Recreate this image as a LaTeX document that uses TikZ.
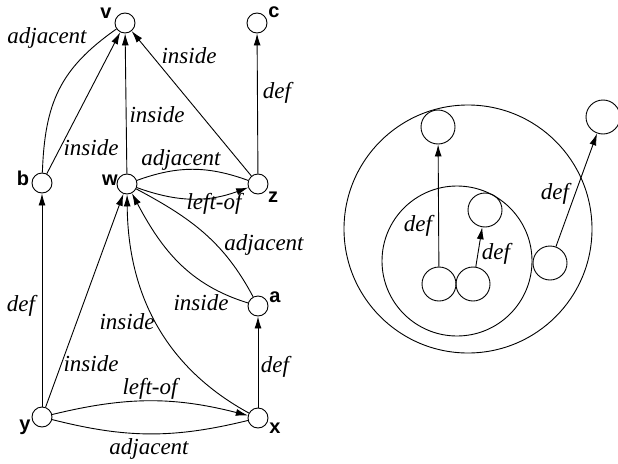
\documentclass[tikz,border=0pt]{standalone}
\usepackage{fontspec}
\setmainfont{Liberation Serif}
\newfontfamily\hvfont{Liberation Sans}
\usetikzlibrary{arrows.meta}
\begin{document}
\begin{tikzpicture}[x=1pt,y=1pt,
  vtx/.style={circle,draw,line width=0.9pt,minimum size=20pt,inner sep=0pt},
  bigc/.style={circle,draw,line width=0.9pt,minimum size=34pt,inner sep=0pt},
  ring/.style={circle,draw,line width=0.9pt,inner sep=0pt},
  nm/.style={font=\hvfont\bfseries\fontsize{20}{22}\selectfont,inner sep=0pt},
  lbl/.style={font=\fontsize{23}{26}\selectfont\itshape,inner sep=0pt},
  edge/.style={line width=0.9pt},
  arr/.style={line width=0.9pt,-{Latex[length=12pt,width=7pt]}}
]
\useasboundingbox (0,0) rectangle (618,-463);
% left graph nodes
\node[vtx] (v) at (125,-23) {};
\node[vtx] (c) at (257,-23) {};
\node[vtx] (b) at (42,-183) {};
\node[vtx] (w) at (127,-184) {};
\node[vtx] (z) at (258,-184) {};
\node[vtx] (a) at (258,-306) {};
\node[vtx] (y) at (42,-417) {};
\node[vtx] (x) at (258,-418) {};
% names
\node[nm] (vn) at (106,-13) {v};
\node[nm] (cn) at (274,-12) {c};
\node[nm] (bn) at (23,-178) {b};
\node[nm] (wn) at (110,-180) {w};
\node[nm] (zn) at (273,-197) {z};
\node[nm] (an) at (275,-297) {a};
\node[nm] (yn) at (25,-427) {y};
\node[nm] (xn) at (275,-428) {x};
% edges
\draw[edge] (b) to[out=88,in=215,looseness=1.1] (v);
\draw[arr] (b) -- (v);
\draw[arr] (w) -- (v);
\draw[arr] (z) -- (v);
\draw[arr] (z) -- (c);
\draw[edge] (w) to[bend left=20] (z);
\draw[arr] (w) to[bend right=20] (z);
\draw[arr] (y) -- (b);
\draw[arr] (y) -- (w);
\draw[arr] (x) .. controls (170,-370) and (128,-300) .. (w);
\draw[arr] (a) to[out=163,in=-62] (w);
\draw[edge] (a) to[out=118,in=-28] (w);
\draw[arr] (x) -- (a);
\draw[arr] (y) to[bend left=14] (x);
\draw[edge] (y) to[bend right=14] (x);
% edge labels
\node[lbl] (l1) at (47,-38) {adjacent};
\node[lbl] (l2) at (91,-148) {inside};
\node[lbl] (l3) at (157,-115) {inside};
\node[lbl] (l4) at (189,-56) {inside};
\node[lbl] (l5) at (277,-93) {def};
\node[lbl] (l6) at (181,-160) {adjacent};
\node[lbl] (l7) at (214,-204) {left-of};
\node[lbl] (l8) at (264,-245) {adjacent};
\node[lbl] (l9) at (201,-303) {inside};
\node[lbl] (l10) at (127,-322) {inside};
\node[lbl] (l11) at (21,-306) {def};
\node[lbl] (l12) at (91,-364) {inside};
\node[lbl] (l13) at (275,-367) {def};
\node[lbl] (l14) at (150,-389) {left-of};
\node[lbl] (l15) at (149,-449) {adjacent};
% right picture
\node[ring,minimum size=248pt] (outer) at (468,-229) {};
\node[ring,minimum size=150pt] (inner) at (457,-261) {};
\node[bigc] (p1) at (438,-127) {};
\node[bigc] (p2) at (603,-117) {};
\node[bigc] (p3) at (485,-210) {};
\node[bigc] (p4) at (439,-284) {};
\node[bigc] (p5) at (473,-284) {};
\node[bigc] (p6) at (550,-263) {};
\draw[arr] (p4) -- (p1);
\draw[arr] (p5) -- (p3);
\draw[arr] (p6) -- (p2);
\node[lbl] (r1) at (418,-226) {def};
\node[lbl] (r2) at (496,-254) {def};
\node[lbl] (r3) at (555,-194) {def};
\end{tikzpicture}
\end{document}
